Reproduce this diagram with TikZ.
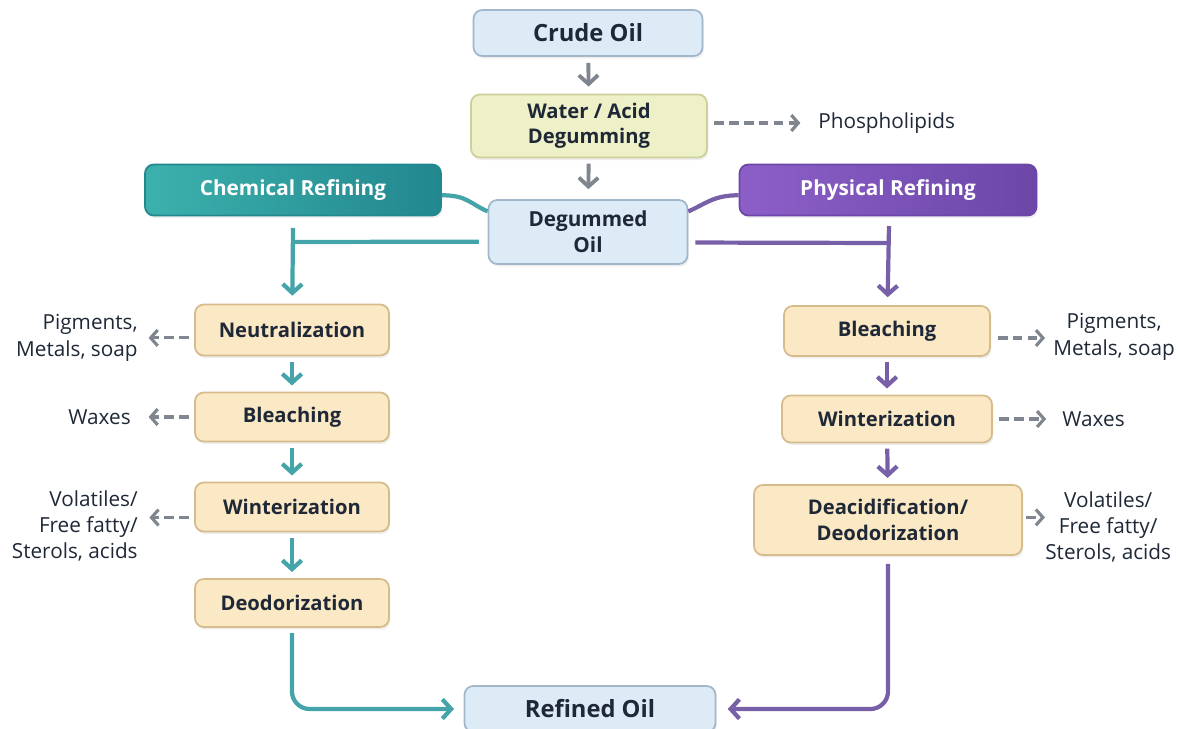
\documentclass[tikz,border=0pt]{standalone}
\usepackage{fontspec}
\setmainfont{Open Sans}
\usetikzlibrary{arrows.meta,shadows}

\definecolor{ink}{HTML}{1E2836}
\definecolor{oilfill}{HTML}{DDEBF7}
\definecolor{oilline}{HTML}{A3B7CB}
\definecolor{stepfill}{HTML}{FBE8C4}
\definecolor{stepline}{HTML}{D6BC8C}
\definecolor{gumfill}{HTML}{EEF0C8}
\definecolor{gumline}{HTML}{CDD09A}
\definecolor{tealA}{HTML}{3CB1AC}
\definecolor{tealB}{HTML}{22878F}
\definecolor{tealarr}{HTML}{45A3AA}
\definecolor{purpA}{HTML}{8C5FC8}
\definecolor{purpB}{HTML}{6C47A8}
\definecolor{purparr}{HTML}{7760A8}
\definecolor{grayarr}{HTML}{80868F}

\begin{document}
\begin{tikzpicture}[x=0.02cm,y=-0.02cm,
    box/.style={draw, rounded corners=5pt, line width=1pt, text=ink, align=center,
        inner sep=0pt, drop shadow={opacity=0.12, shadow xshift=0.8pt, shadow yshift=-1.5pt}},
    oilbox/.style={box, fill=oilfill, draw=oilline, font=\fontsize{13.5}{17}\selectfont\bfseries},
    gumbox/.style={box, fill=gumfill, draw=gumline, font=\fontsize{11.5}{14}\selectfont\bfseries},
    stepbox/.style={box, fill=stepfill, draw=stepline, font=\fontsize{11.5}{15}\selectfont\bfseries},
    routebox/.style={box, text=white, font=\fontsize{11.8}{14}\selectfont\bfseries},
    sidetext/.style={inner sep=0pt, text=ink, font=\fontsize{11.8}{15}\selectfont},
    tip/.style={-{Straight Barb[length=5pt,width=11pt]}},
    grayarrow/.style={tip, draw=grayarr, line width=2.2pt},
    tealline/.style={draw=tealarr, line width=2.4pt},
    purpline/.style={draw=purparr, line width=2.4pt},
    sidearrow/.style={draw=grayarr, line width=1.8pt, dash pattern=on 5.5pt off 3pt,
        -{Straight Barb[length=4pt,width=9pt]}}
  ]
  \useasboundingbox[fill=white] (0,0) rectangle (1179,729);

  % main line
  \node[oilbox, minimum width=4.58cm, minimum height=0.92cm] (crude) at (588,33) {Crude Oil};
  \node[gumbox, minimum width=4.72cm, minimum height=1.26cm] (degum) at (589,126) {Water / Acid\\Degumming};
  \node[oilbox, font=\fontsize{11.8}{15}\selectfont\bfseries, minimum width=3.98cm, minimum height=1.28cm] (dgoil) at (588,232) {Degummed\\Oil};
  \node[oilbox, minimum width=5.02cm, minimum height=0.92cm] (refined) at (590,709) {Refined Oil};
  \node[sidetext, anchor=west] (phos) at (818,123) {Phospholipids};

  \node[routebox, left color=tealA, right color=tealB, draw=tealB, minimum width=5.92cm, minimum height=1.02cm] (chem) at (293,190) {Chemical Refining};
  \node[routebox, left color=purpA, right color=purpB, draw=purpB, minimum width=5.94cm, minimum height=1.02cm] (phys) at (888,190) {Physical Refining};

  % chemical side
  \node[stepbox, minimum width=3.88cm, minimum height=1.02cm] (neut) at (292,330) {Neutralization};
  \node[stepbox, minimum width=3.88cm, minimum height=0.98cm] (bleachL) at (292,417) {Bleaching};
  \node[stepbox, minimum width=3.88cm, minimum height=0.98cm] (winterL) at (292,507) {Winterization};
  \node[stepbox, minimum width=3.88cm, minimum height=0.96cm] (deodL) at (292,603) {Deodorization};

  \node[sidetext, anchor=east, align=right] (pigL) at (138,338) {Pigments,\\Metals, soap};
  \node[sidetext, anchor=east] (waxL) at (131,417) {Waxes};
  \node[sidetext, anchor=east, align=right] (volL) at (138,526) {Volatiles/\\Free fatty/\\Sterols, acids};

  % physical side
  \node[stepbox, minimum width=4.12cm, minimum height=1.0cm] (bleachR) at (887,331) {Bleaching};
  \node[stepbox, minimum width=4.2cm, minimum height=0.94cm] (winterR) at (887,419) {Winterization};
  \node[stepbox, minimum width=5.36cm, minimum height=1.4cm] (deacid) at (888,520) {Deacidification/\\Deodorization};

  \node[sidetext, anchor=west, align=center] (pigR) at (1053,337) {Pigments,\\Metals, soap};
  \node[sidetext, anchor=west] (waxR) at (1062,419) {Waxes};
  \node[sidetext, anchor=west, align=center] (volR) at (1045,527) {Volatiles/\\Free fatty/\\Sterols, acids};

  \coordinate (topL) at (293,228);
  \coordinate (joinL) at (293,242);
  \coordinate (topR) at (889,226);
  \coordinate (joinR) at (889,243);

  % arrows
  \draw[grayarrow, shorten <=3.4pt, shorten >=4pt] (crude) -- (degum);
  \draw[grayarrow, shorten <=3pt, shorten >=5.7pt] (degum) -- (dgoil);
  \draw[sidearrow, shorten <=3.5pt, shorten >=10pt] (degum.east |- phos.west) -- (phos.west);

  \draw[tealline] ([yshift=-3pt]chem.east) .. controls +(25,0) and +(-18,-8) .. ([yshift=-7pt]dgoil.north west);
  \draw[purpline] ([yshift=-3pt]phys.west) .. controls +(-25,0) and +(18,-8) .. ([yshift=-7pt]dgoil.north east);

  \draw[tealline] ([xshift=-5pt,yshift=-5.5pt]dgoil.west) -- (joinL);
  \draw[tealline, tip, shorten >=4.5pt] (topL) -- (neut);
  \draw[purpline] ([xshift=4pt,yshift=-6pt]dgoil.east) -- (joinR);
  \draw[purpline, tip, shorten >=4.5pt] (topR) -- (bleachR);

  \draw[tealline, tip, shorten <=3pt, shorten >=3.5pt] (neut) -- (bleachL);
  \draw[tealline, tip, shorten <=3pt, shorten >=3.5pt] (bleachL) -- (winterL);
  \draw[tealline, tip, shorten <=3pt, shorten >=3.5pt] (winterL) -- (deodL);
  \draw[purpline, tip, shorten <=3pt, shorten >=3.5pt] (bleachR) -- (winterR);
  \draw[purpline, tip, shorten <=3pt, shorten >=3.5pt] (winterR) -- (deacid);

  \draw[tealline, tip, rounded corners=10pt, shorten <=3pt, shorten >=5.5pt] (deodL.south) |- (refined.west);
  \draw[purpline, tip, rounded corners=10pt, shorten <=4.5pt, shorten >=6.5pt] (deacid.south) |- (refined.east);

  \draw[sidearrow, shorten <=3pt, shorten >=6pt] ([yshift=-4.5pt]neut.west) -- ([yshift=-4.5pt]neut.west -| pigL.east);
  \draw[sidearrow, shorten <=3pt, shorten >=10pt] (bleachL.west) -- (waxL.east);
  \draw[sidearrow, shorten <=3pt, shorten >=6.5pt] ([yshift=-6pt]winterL.west) -- ([yshift=-6pt]winterL.west -| volL.east);
  \draw[sidearrow, shorten <=4pt, shorten >=4.5pt] ([yshift=-4pt]bleachR.east) -- ([yshift=-4pt]bleachR.east -| pigR.west);
  \draw[sidearrow, shorten <=3.5pt, shorten >=9pt] (winterR.east) -- (waxR.west);
  \draw[sidearrow, shorten <=2pt, shorten >=0pt] ([yshift=1.5pt]deacid.east) -- ([yshift=1.5pt]deacid.east -| volR.west);
\end{tikzpicture}
\end{document}
